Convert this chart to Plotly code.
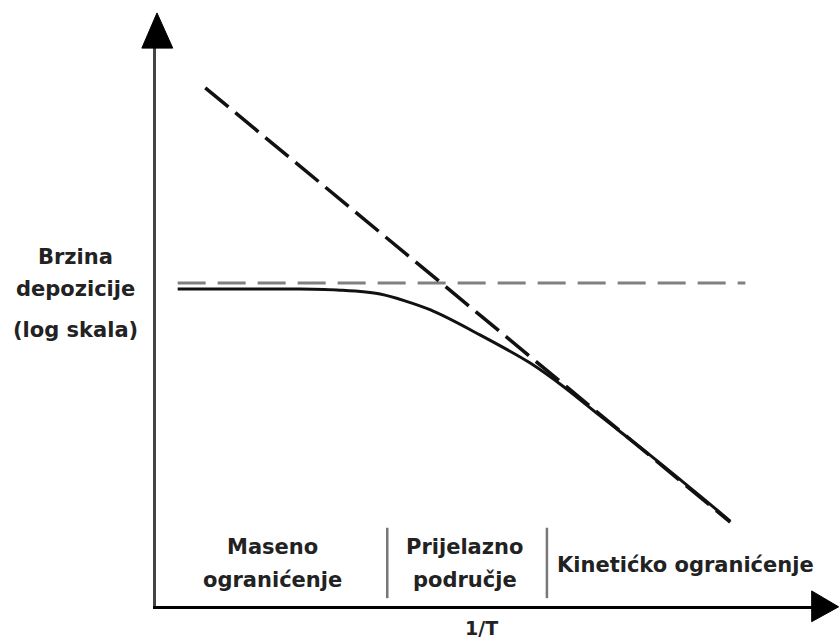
import plotly.graph_objects as go

# ---- data (arbitrary units: x = 1/T, y = log deposition rate) ----
curve_x = [0.33, 2.19, 2.80, 3.41, 4.17, 4.93, 5.69, 6.23, 6.76, 7.52, 8.28, 8.74]
curve_y = [5.67, 5.67, 5.65, 5.58, 5.30, 4.85, 4.35, 3.90, 3.40, 2.70, 1.97, 1.52]

kinetic_x = [0.75, 8.74]
kinetic_y = [9.27, 1.50]

mass_x = [0.33, 8.97]
mass_y = [5.78, 5.78]

region_bounds = [3.52, 5.95]
bound_y = [0.14, 1.40]

region_labels = [("Maseno", "ogranićenje"), ("Prijelazno", "područje"), ("Kinetićko ogranićenje",)]
region_centers = [1.78, 4.70, 8.06]

y_label_lines = ["Brzina", "depozicije", "(log skala)"]
x_label = "1/T"

FONT = "DejaVu Sans"
TXT = "#222222"
X_RANGE = [0, 10]
Y_RANGE = [0, 10]

fig = go.Figure()

# mass-transfer limit (horizontal dashed, grey)
fig.add_trace(go.Scatter(x=mass_x, y=mass_y, mode="lines",
                         line=dict(color="#808080", width=3, dash="28px,12px"),
                         hoverinfo="skip", showlegend=False))
# kinetic limit (steep dashed, black)
fig.add_trace(go.Scatter(x=kinetic_x, y=kinetic_y, mode="lines",
                         line=dict(color="#111111", width=3.5, dash="30px,9px"),
                         hoverinfo="skip", showlegend=False))
# actual deposition rate (solid)
fig.add_trace(go.Scatter(x=curve_x, y=curve_y, mode="lines",
                         line=dict(color="#111111", width=3, shape="spline", smoothing=0.8),
                         hoverinfo="skip", showlegend=False))
# region dividers
for b in region_bounds:
    fig.add_trace(go.Scatter(x=[b, b], y=bound_y, mode="lines",
                             line=dict(color="#777777", width=2.5),
                             hoverinfo="skip", showlegend=False))

annotations = []
line_y = [1.06, 0.47]
for lbl, cx in zip(region_labels, region_centers):
    if len(lbl) == 2:
        for t, yy in zip(lbl, line_y):
            annotations.append(dict(x=cx, y=yy, text=t, showarrow=False, xanchor="center", yanchor="middle",
                                    font=dict(family=FONT, size=21, color=TXT, weight="bold")))
    else:
        annotations.append(dict(x=cx, y=0.73, text=lbl[0], showarrow=False, xanchor="center", yanchor="middle",
                                font=dict(family=FONT, size=21, color=TXT, weight="bold")))

# labels outside the plotting area (paper coordinates)
def to_paper(v, rng):
    return (v - rng[0]) / (rng[1] - rng[0])

for t, yy in zip(y_label_lines, [6.24, 5.67, 4.94]):
    annotations.append(dict(xref="paper", yref="paper", x=to_paper(-1.23, X_RANGE), y=to_paper(yy, Y_RANGE),
                            text=t, showarrow=False, xanchor="center", yanchor="middle",
                            font=dict(family=FONT, size=21, color=TXT, weight="bold")))

annotations.append(dict(xref="paper", yref="paper", x=to_paper(4.95, X_RANGE), y=to_paper(-0.39, Y_RANGE),
                        text=x_label, showarrow=False, xanchor="center", yanchor="middle",
                        font=dict(family=FONT, size=19, color=TXT, weight="bold")))

shapes = [
    # y-axis arrowhead
    dict(type="path", xref="paper", yref="paper",
         path="M 0.0015 1.061 L -0.0215 0.998 L 0.0255 0.998 Z",
         fillcolor="black", line=dict(color="black", width=1)),
    # x-axis arrowhead
    dict(type="path", xref="paper", yref="paper",
         path="M 1.039 -0.0015 L 0.998 0.027 L 0.998 -0.028 Z",
         fillcolor="black", line=dict(color="black", width=1)),
]

fig.update_layout(
    width=839, height=643,
    margin=dict(l=156, r=26, t=47, b=37),
    paper_bgcolor="white", plot_bgcolor="white",
    xaxis=dict(range=X_RANGE, showgrid=False, zeroline=False, showticklabels=False, ticks="",
               showline=True, linecolor="black", linewidth=3),
    yaxis=dict(range=Y_RANGE, showgrid=False, zeroline=False, showticklabels=False, ticks="",
               showline=True, linecolor="#444444", linewidth=3),
    annotations=annotations,
    shapes=shapes,
    showlegend=False,
)

fig.write_html("out.html", config={"displayModeBar": False},
               post_script="document.body.style.margin='0';document.body.style.padding='0';document.body.style.overflow='hidden';")
